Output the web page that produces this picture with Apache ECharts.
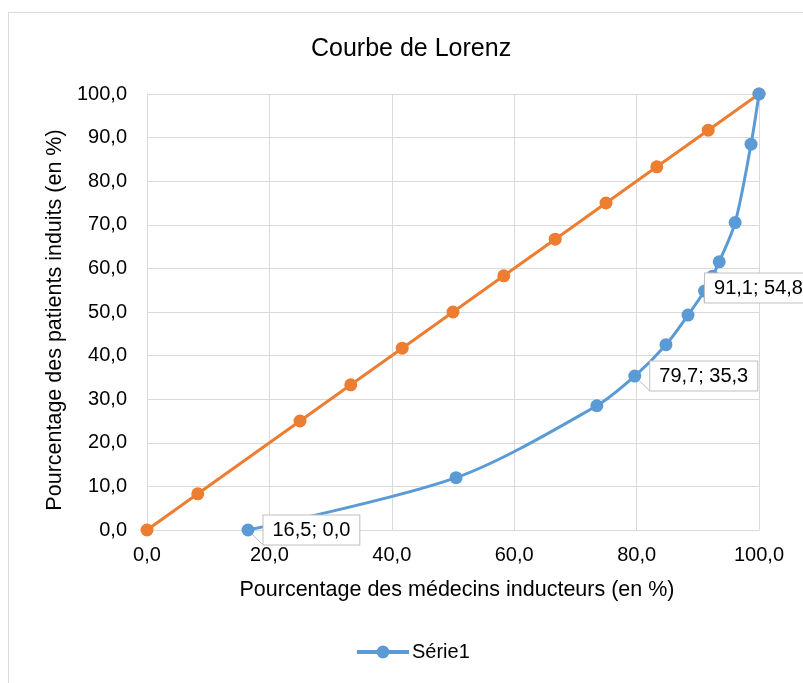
<!DOCTYPE html>
<html>
<head>
<meta charset="utf-8">
<script src="https://cdn.jsdelivr.net/npm/echarts@6/dist/echarts.min.js"></script>
<style>
  html, body { margin: 0; padding: 0; background: #fff; }
  #frame { position: absolute; left: 8px; top: 12px; width: 820px; height: 700px; border: 1px solid #d9d9d9; box-sizing: border-box; }
  #chart { position: absolute; left: 0; top: 0; width: 803px; height: 683px; }
</style>
</head>
<body>
<div id="frame"></div>
<div id="chart"></div>
<script>
// Courbe de Lorenz : % médecins (x) vs % patients (y)
const serie1X = [16.5, 50.5, 73.5, 79.7, 84.8, 88.4, 91.1, 92.4, 93.5, 96.1, 98.7, 100];
const serie1Y = [0.0, 12.0, 28.5, 35.3, 42.5, 49.3, 54.8, 58.2, 61.5, 70.5, 88.5, 100];
const egaliteX = [0, 8.3, 25, 33.3, 41.7, 50, 58.3, 66.7, 75, 83.3, 91.7, 100];
const egaliteY = [0, 8.3, 25, 33.3, 41.7, 50, 58.3, 66.7, 75, 83.3, 91.7, 100];
const labelled = [0, 3, 6]; // points qui portent une étiquette

const fmt = v => v.toFixed(1).replace('.', ',');
const font = 'Liberation Sans, Arial, sans-serif';

const blueData = serie1X.map((x, i) => {
  const d = { value: [x, serie1Y[i]] };
  if (labelled.includes(i)) {
    d.label = {
      show: true,
      position: 'right',
      distance: i === 6 ? -6 : 9,
      offset: i === 6 ? [0, -3] : [0, 0],
      formatter: p => fmt(p.value[0]) + '; ' + fmt(p.value[1]),
      color: '#000',
      fontSize: 20,
      fontFamily: font,
      backgroundColor: '#fff',
      borderColor: '#bfbfbf',
      borderWidth: 1,
      padding: [5, 9, 4, 9]
    };
  }
  return d;
});

const chart = echarts.init(document.getElementById('chart'));
chart.setOption({
  animation: false,
  title: {
    text: 'Courbe de Lorenz',
    left: 306,
    top: 32,
    textStyle: { fontSize: 25, fontWeight: 'normal', color: '#000', fontFamily: font }
  },
  legend: {
    data: ['Série1'],
    bottom: 16,
    left: 350,
    itemWidth: 52,
    itemHeight: 16,
    itemGap: 4,
    lineStyle: { width: 4 },
    textStyle: { fontSize: 20, color: '#000', fontFamily: font, padding: [0, 0, 0, -2] }
  },
  grid: { left: 147, right: 44, top: 94, bottom: 153 },
  xAxis: {
    type: 'value',
    min: 0, max: 100, interval: 20,
    name: 'Pourcentage des médecins inducteurs (en %)',
    nameLocation: 'middle',
    nameGap: 49,
    nameTextStyle: { fontSize: 21.5, color: '#000', fontFamily: font, padding: [0, 0, 0, 8] },
    axisLine: { show: true, lineStyle: { color: '#d9d9d9', width: 1 } },
    axisTick: { show: false },
    axisLabel: { formatter: fmt, fontSize: 20, color: '#000', fontFamily: font, margin: 15 },
    splitLine: { show: true, lineStyle: { color: '#d9d9d9', width: 1 } }
  },
  yAxis: {
    type: 'value',
    min: 0, max: 100, interval: 10,
    name: 'Pourcentage des patients induits (en %)',
    nameLocation: 'middle',
    nameGap: 78,
    nameTextStyle: { fontSize: 21.5, color: '#000', fontFamily: font, padding: [0, 16, 0, 0] },
    axisLine: { show: true, lineStyle: { color: '#d9d9d9', width: 1 } },
    axisTick: { show: false },
    axisLabel: { formatter: fmt, fontSize: 20, color: '#000', fontFamily: font, margin: 20 },
    splitLine: { show: true, lineStyle: { color: '#d9d9d9', width: 1 } }
  },
  series: [
    {
      name: 'Égalité',
      type: 'line',
      data: egaliteX.map((x, i) => [x, egaliteY[i]]),
      symbol: 'circle',
      symbolSize: 13,
      lineStyle: { color: '#ed7d31', width: 3 },
      itemStyle: { color: '#ed7d31' },
      z: 2
    },
    {
      name: 'Série1',
      type: 'line',
      data: blueData,
      smooth: 0.3,
      symbol: 'circle',
      symbolSize: 13,
      lineStyle: { color: '#5b9bd5', width: 3 },
      itemStyle: { color: '#5b9bd5' },
      labelLine: { show: true, lineStyle: { color: '#bfbfbf', width: 1 } },
      z: 3
    }
  ]
});
</script>
</body>
</html>
